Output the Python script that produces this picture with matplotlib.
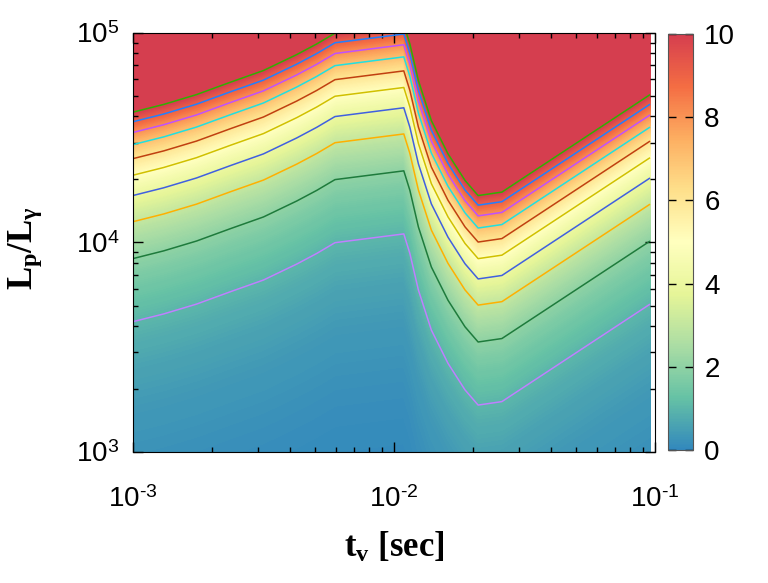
import numpy as np
import matplotlib.pyplot as plt
from matplotlib.colors import LinearSegmentedColormap, Normalize
from matplotlib.cm import ScalarMappable

plt.rcParams['font.family'] = ['Liberation Sans', 'DejaVu Sans']
plt.rcParams['mathtext.fontset'] = 'custom'
plt.rcParams['mathtext.rm'] = 'Liberation Sans'
plt.rcParams['mathtext.bf'] = 'Liberation Serif:bold'
plt.rcParams['mathtext.it'] = 'Liberation Serif:italic'

tv = [1.0e-3, 1.31e-3, 1.75e-3, 2.36e-3, 3.16e-3, 4.24e-3, 5.06e-3, 5.94e-3,
      1.09e-2, 1.15e-2, 1.24e-2, 1.39e-2, 1.61e-2, 1.87e-2, 2.10e-2, 2.59e-2, 9.57e-2]
# L_p/L_gamma where the colour value is 1 (value scales with L_p/L_gamma)
l_unit = [4190, 4560, 5080, 5820, 6620, 7890, 8870, 9980,
          10990, 8870, 5930, 3820, 2650, 1980, 1675, 1740, 5080]

levels = [1, 2, 3, 4, 5, 6, 7, 8, 9, 10]
level_colors = ['#bf80ff', '#1e7b3c', '#ffb000', '#4060e0', '#d0c000',
                '#c04010', '#20e0e0', '#c050ff', '#2080ff', '#30b000']
spectral9 = ['#3288bd', '#66c2a5', '#abdda4', '#e6f598', '#ffffbf',
             '#fee08b', '#fdae61', '#f46d43', '#d53e4f']
cmap = LinearSegmentedColormap.from_list('spec9', spectral9)

# grid in log10 coordinates
lx = np.log10(tv)
ly = np.linspace(3, 5, 41)
LX, LY = np.meshgrid(lx, ly)
logz = LY - np.log10(l_unit)[None, :]

# fine colour bands, coloured by the linear value (saturating at 10)
band_edges = np.concatenate([[0.05], np.linspace(0.1, 10, 300), [1000]])
band_mid = 0.5 * (band_edges[:-1] + band_edges[1:])
band_colors = cmap(np.clip(band_mid / 10, 0, 1))

fig = plt.figure(figsize=(7.68, 5.83), dpi=100)
ax = fig.add_axes([0.1732, 0.2247, 0.6797, 0.7187])
cax = fig.add_axes([0.8698, 0.2281, 0.0326, 0.7136])

cf = ax.contourf(LX, LY, logz, levels=np.log10(band_edges), colors=band_colors)
cf.set_edgecolor('face')
cf.set_linewidth(0.4)
ax.contour(LX, LY, logz, levels=np.log10(levels), colors=level_colors, linewidths=1.1)

ax.set_xlim(-3, -1)
ax.set_ylim(3, 5)

minor = np.log10(np.arange(2, 10))
ax.set_xticks([-3, -2, -1])
ax.set_xticklabels([r'10$^{\text{-}3}$', r'10$^{\text{-}2}$', r'10$^{\text{-}1}$'])
ax.set_xticks(np.concatenate([minor - 3, minor - 2]), minor=True)
ax.set_yticks([3, 4, 5])
ax.set_yticklabels([r'10$^{3}$', r'10$^{4}$', r'10$^{5}$'])
ax.set_yticks(np.concatenate([minor + 3, minor + 4]), minor=True)
ax.tick_params(which='both', direction='in', top=True, right=True, labelsize=20)
ax.tick_params(which='major', length=7, width=1)
ax.tick_params(which='minor', length=3.5, width=1)
ax.tick_params(axis='x', which='major', pad=25)
ax.tick_params(axis='y', which='major', pad=10)

fig.text(0.513, 0.060, r'$\mathbf{t_v}$ [sec]', ha='center', va='center',
         fontsize=25, family='Liberation Serif', weight='bold')
fig.text(0.033, 0.575, r'$\mathbf{L_p/L_\gamma}$', ha='center', va='center',
         fontsize=25, rotation=90)

sm = ScalarMappable(norm=Normalize(0, 10), cmap=cmap)
cb = fig.colorbar(sm, cax=cax, ticks=[0, 2, 4, 6, 8, 10])
cb.outline.set_edgecolor('#555555')
cax.tick_params(direction='in', left=True, right=True, length=6, width=1,
                labelsize=20, pad=8)

fig.savefig('out.png', dpi=100)
